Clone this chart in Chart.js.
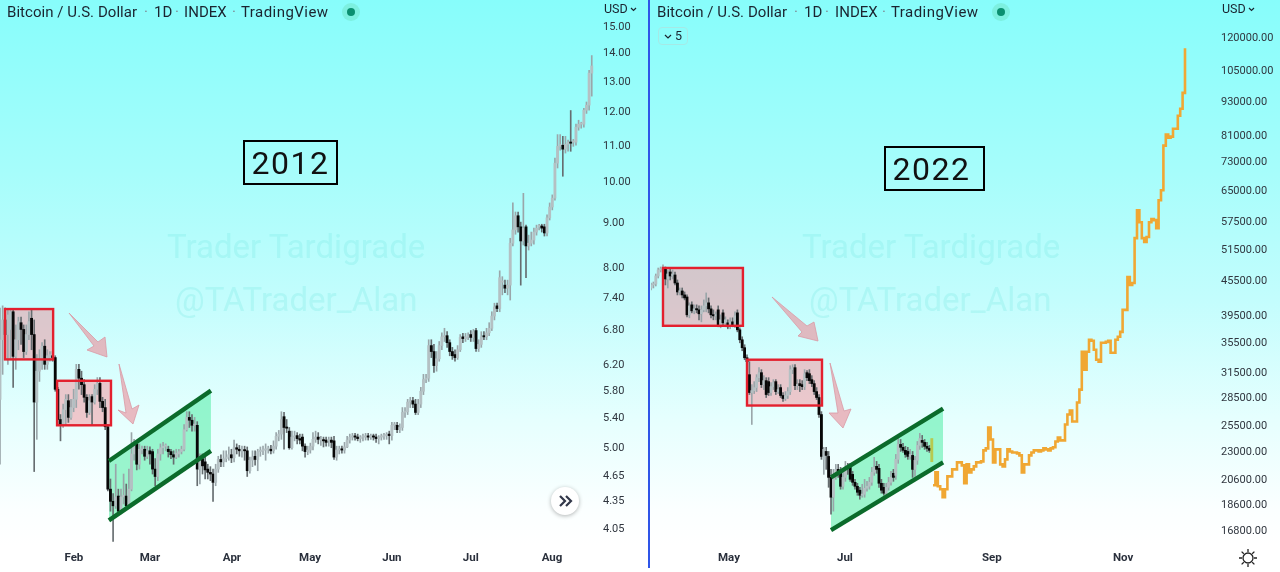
<!DOCTYPE html>
<html>
<head>
<meta charset="utf-8">
<title>Bitcoin 2012 vs 2022</title>
<script src="https://cdn.jsdelivr.net/npm/chart.js@4"></script>
<style>
  html, body { margin: 0; padding: 0; }
  body {
    position: relative; width: 1280px; height: 572px; overflow: hidden;
    background: linear-gradient(180deg, #87fdfb 0, #a6fdfb 170px, #c3fdfd 300px, #e6fffe 420px, #fbffff 510px, #fff 545px);
    font-family: Roboto, "Noto Sans", sans-serif; color: #1b2430;
  }
  canvas { position: absolute; top: 0; }
  #chartLeft { left: 0; }
  #chartRight { left: 651px; }
  #divider { position: absolute; left: 648px; top: 0; width: 2px; height: 568px; background: #2f55e8; }
  .t { position: absolute; top: 3px; font-size: 15px; line-height: 18px; white-space: nowrap; letter-spacing: .05px; }
  .tv { letter-spacing: .45px; }
  .sep { position: absolute; top: 3px; font-size: 15px; line-height: 18px; color: #7d8a94; }
  .usd { position: absolute; top: 2px; font-size: 12.5px; line-height: 14px; }
  .usd svg { margin-left: 2px; vertical-align: 1px; }
  .live { position: absolute; top: 3px; width: 18px; height: 18px; border-radius: 9px; background: #7df0e0; }
  .live i { position: absolute; left: 5px; top: 5px; width: 8px; height: 8px; border-radius: 4px; background: #0a8f70; }
  .year { position: absolute; border: 2.4px solid #000; box-sizing: border-box; color: #111; font-size: 32px; letter-spacing: 1.5px; text-align: center; }
  .mark { position: absolute; color: #70e6e0; opacity: .25; font-size: 33px; white-space: nowrap; }
  #collapse { position: absolute; left: 658px; top: 27px; width: 30px; height: 18px; border: 1px solid #a5e9e6; border-radius: 4px; box-sizing: border-box; font-size: 12.5px; line-height: 16px; text-align: center; }
  #goRight { position: absolute; left: 551px; top: 487px; width: 28px; height: 28px; border-radius: 14px; background: #fff; box-shadow: 0 1px 4px rgba(0,0,0,.3); }
  #arrows { position: absolute; left: 0; top: 0; }
  #gear { position: absolute; left: 1238px; top: 548px; }
</style>
</head>
<body>
<canvas id="chartLeft" width="648" height="572"></canvas>
<canvas id="chartRight" width="629" height="572"></canvas>
<div id="divider"></div>

<svg id="arrows" width="1280" height="572">
  <g fill="#ea8f9b" fill-opacity=".62" stroke="#d99aa5" stroke-opacity=".8">
    <polygon points="69,313 98,342 105,337 107,357 87,350 94,346"></polygon>
    <polygon points="119,364 132,409 139,405 133,424 118,410 126,413"></polygon>
    <polygon points="772,297 807,326 814,322 818,341 798,336 802,332"></polygon>
    <polygon points="830,363 844,411 851,409 843,428 829,413 838,413"></polygon>
  </g>
</svg>

<span class="t" style="left:7px">Bitcoin / U.S. Dollar</span><span class="sep" style="left:144px">·</span>
<span class="t" style="left:154px">1D</span><span class="sep" style="left:175px">·</span>
<span class="t" style="left:184px">INDEX</span><span class="sep" style="left:232px">·</span>
<span class="t tv" style="left:241px">TradingView</span>
<div class="live" style="left:342px"><i></i></div>
<span class="usd" style="left:604px">USD<svg width="7" height="5"><path d="M1 1l2.5 2.5L6 1" fill="none" stroke="#1b2430" stroke-width="1.2"></path></svg></span>

<span class="t" style="left:657px">Bitcoin / U.S. Dollar</span><span class="sep" style="left:794px">·</span>
<span class="t" style="left:804px">1D</span><span class="sep" style="left:825px">·</span>
<span class="t" style="left:835px">INDEX</span><span class="sep" style="left:882px">·</span>
<span class="t tv" style="left:891px">TradingView</span>
<div class="live" style="left:992px"><i></i></div>
<span class="usd" style="left:1222px">USD<svg width="7" height="5"><path d="M1 1l2.5 2.5L6 1" fill="none" stroke="#1b2430" stroke-width="1.2"></path></svg></span>
<div id="collapse"><svg width="8" height="6"><path d="M1 1l3 3 3-3" fill="none" stroke="#1b2430" stroke-width="1.2"></path></svg> 5</div>

<div class="year" style="left:243px;top:140px;width:95px;height:45px;line-height:43px">2012</div>
<div class="year" style="left:884px;top:146px;width:101px;height:45px;line-height:43px;padding-right:6px">2022</div>

<div class="mark" style="left:167px;top:227px">Trader Tardigrade</div>
<div class="mark" style="left:175px;top:280px">@TATrader_Alan</div>
<div class="mark" style="left:802px;top:227px">Trader Tardigrade</div>
<div class="mark" style="left:809px;top:280px">@TATrader_Alan</div>

<div id="goRight"><svg width="28" height="28" fill="none" stroke="#33384a" stroke-width="2.2"><path d="M9 9l5 5-5 5M15 9l5 5-5 5"></path></svg></div>
<svg id="gear" width="20" height="20" fill="none" stroke="#222" stroke-width="1.3">
  <circle cx="10" cy="10" r="5"></circle>
  <path d="M10 1v3M10 16v3M1 10h3M16 10h3M3.6 3.6l2.2 2.2M14.2 14.2l2.2 2.2M3.6 16.4l2.2-2.2M14.2 5.8l2.2-2.2"></path>
</svg>

<script>
// 2012 candles, one per day, in USD
const leftOpen = [
  5.65,6.60,6.95,6.69,6.78,7.10,6.32,6.60,6.90,6.78,
  6.40,6.69,6.98,6.69,5.61,6.08,6.27,6.49,6.19,6.30,
  6.33,6.30,5.80,5.36,5.29,5.50,5.63,5.39,5.53,5.65,
  6.11,5.97,5.87,5.68,5.46,5.69,5.61,5.80,5.89,5.62,
  5.53,5.26,4.47,4.33,4.28,4.39,4.22,4.38,4.39,4.28,
  4.47,4.90,5.03,4.77,4.95,4.96,4.87,4.94,4.93,4.71,
  4.62,4.90,4.98,5.00,4.96,4.93,4.89,4.86,4.90,4.93,
  4.96,5.22,5.39,5.35,5.28,5.28,4.71,4.84,4.80,4.71,
  4.67,4.65,4.55,4.71,4.83,4.80,4.84,4.86,4.89,4.85,
  4.98,4.96,4.94,4.95,4.94,4.69,4.82,4.87,4.83,4.93,
  4.94,4.95,4.96,4.96,4.94,5.00,5.13,5.16,5.40,5.25,
  5.20,4.98,5.12,5.14,5.10,5.12,5.00,4.93,4.95,5.00,
  5.09,5.12,5.08,5.08,5.08,5.07,5.08,5.07,4.86,4.95,
  4.96,4.95,4.99,5.08,5.12,5.13,5.12,5.10,5.12,5.12,
  5.13,5.12,5.13,5.12,5.10,5.12,5.13,5.14,5.16,5.14,
  5.28,5.28,5.22,5.25,5.46,5.47,5.61,5.63,5.58,5.46,
  5.58,5.77,5.95,5.97,6.50,6.40,6.17,6.28,6.50,6.65,
  6.67,6.55,6.40,6.35,6.30,6.43,6.65,6.62,6.65,6.69,
  6.64,6.76,6.45,6.52,6.67,6.65,6.72,6.80,7.02,7.21,
  7.16,7.67,7.61,7.55,7.61,8.49,8.79,9.12,8.86,8.54,
  8.86,8.43,8.49,8.56,8.74,8.86,8.88,8.86,8.72,9.07,
  9.33,9.55,10.46,10.93,10.96,10.85,10.99,11.05,11.05,11.05,
  11.49,11.58,11.58,12.01,12.17,13.23
];
const leftClose = [
  6.60,6.95,6.69,7.04,7.10,6.32,6.60,6.92,6.78,6.40,
  6.69,6.92,6.69,5.61,6.08,6.27,6.49,6.19,6.33,6.35,
  6.30,5.80,5.36,5.29,5.50,5.65,5.39,5.53,5.65,6.11,
  5.97,5.87,5.68,5.46,5.63,5.61,5.80,5.89,5.62,5.53,
  5.26,4.47,4.33,4.28,4.38,4.22,4.38,4.40,4.28,4.47,
  4.90,5.03,4.77,4.96,4.96,4.87,4.94,4.90,4.71,4.62,
  4.90,4.98,5.00,5.00,4.93,4.89,4.86,4.91,4.93,4.96,
  5.22,5.39,5.35,5.28,5.29,4.71,4.84,4.75,4.70,4.67,
  4.65,4.55,4.71,4.83,4.80,4.84,4.86,4.89,4.85,4.98,
  4.96,4.94,4.95,4.94,4.69,4.82,4.86,4.83,4.93,4.94,
  4.95,4.96,4.96,4.94,5.00,5.13,5.16,5.36,5.25,5.24,
  4.98,5.12,5.13,5.10,5.08,5.00,4.93,4.95,5.00,5.09,
  5.12,5.09,5.08,5.07,5.05,5.08,5.05,4.86,4.95,4.96,
  4.95,4.99,5.08,5.12,5.13,5.12,5.10,5.12,5.12,5.13,
  5.12,5.13,5.12,5.10,5.12,5.13,5.14,5.14,5.14,5.28,
  5.28,5.22,5.25,5.46,5.47,5.61,5.63,5.58,5.46,5.58,
  5.77,5.95,5.97,6.50,6.40,6.17,6.28,6.50,6.65,6.67,
  6.55,6.40,6.33,6.30,6.43,6.64,6.62,6.65,6.67,6.64,
  6.74,6.45,6.52,6.65,6.65,6.72,6.80,7.02,7.19,7.16,
  7.76,7.67,7.55,7.61,8.49,8.79,9.12,8.86,8.54,8.83,
  8.43,8.49,8.56,8.74,8.83,8.88,8.83,8.72,9.07,9.33,
  9.55,10.46,10.93,10.99,10.85,10.99,11.05,11.02,11.05,11.49,
  11.58,11.58,12.01,12.17,13.23,13.48
];
const leftHigh = [
  7.17,7.21,7.17,7.14,7.14,7.14,6.86,7.00,7.00,6.86,
  6.86,7.10,7.14,6.95,6.35,6.43,6.55,6.60,6.43,6.40,
  6.40,6.33,5.83,5.43,5.58,5.72,5.72,5.65,5.80,6.19,
  6.19,6.08,5.95,5.72,5.72,5.72,5.87,5.98,5.98,5.68,
  5.65,5.29,4.59,4.42,4.77,4.47,4.47,4.65,4.53,4.71,
  5.18,5.09,5.07,5.03,5.00,5.00,5.00,4.99,4.96,4.84,
  4.96,5.03,5.05,5.03,5.00,4.96,4.94,4.96,4.96,5.00,
  5.29,5.47,5.47,5.43,5.39,5.33,4.90,4.90,4.86,4.77,
  4.74,4.71,4.77,4.87,4.89,4.94,4.94,4.99,4.96,5.08,
  5.03,5.01,5.00,5.00,4.99,4.86,4.94,4.94,4.96,4.99,
  5.00,5.03,5.00,5.01,5.07,5.18,5.21,5.47,5.46,5.36,
  5.25,5.20,5.20,5.18,5.16,5.16,5.03,5.00,5.04,5.18,
  5.20,5.18,5.13,5.12,5.12,5.12,5.12,5.13,5.00,5.00,
  5.00,5.05,5.13,5.16,5.17,5.17,5.16,5.14,5.16,5.17,
  5.17,5.16,5.16,5.16,5.14,5.16,5.17,5.18,5.20,5.32,
  5.32,5.32,5.30,5.53,5.53,5.65,5.68,5.68,5.65,5.65,
  5.83,6.03,6.03,6.60,6.60,6.52,6.40,6.57,6.72,6.80,
  6.74,6.60,6.47,6.43,6.50,6.69,6.71,6.71,6.72,6.76,
  6.78,6.80,6.60,6.74,6.74,6.80,6.90,7.10,7.26,7.26,
  7.90,7.78,7.71,7.71,8.60,9.43,9.21,9.21,8.97,9.67,
  8.90,8.67,8.74,8.83,8.90,8.92,8.92,8.92,9.14,9.43,
  9.63,10.60,11.27,11.27,11.22,11.22,11.11,12.00,11.13,11.58,
  11.70,11.64,12.07,12.27,13.33,13.85
];
const leftLow = [
  4.77,6.03,6.27,6.19,6.27,5.83,6.11,6.43,6.52,6.30,
  6.35,6.60,6.43,4.68,5.09,5.92,6.11,6.11,6.11,6.24,
  6.24,5.77,5.29,5.07,5.25,5.29,5.32,5.36,5.47,5.53,
  5.80,5.72,5.61,5.39,5.43,5.29,5.58,5.72,5.53,5.47,
  5.22,4.45,4.22,3.90,4.25,4.19,4.19,4.30,4.25,4.25,
  4.45,4.82,4.70,4.71,4.90,4.82,4.84,4.77,4.65,4.51,
  4.57,4.82,4.90,4.94,4.86,4.84,4.77,4.84,4.86,4.90,
  4.94,5.20,5.25,5.20,5.20,4.51,4.53,4.65,4.59,4.59,
  4.57,4.33,4.51,4.67,4.74,4.74,4.80,4.82,4.79,4.80,
  4.90,4.87,4.86,4.82,4.62,4.66,4.74,4.76,4.69,4.87,
  4.89,4.82,4.91,4.90,4.91,4.96,5.07,5.09,4.96,5.18,
  4.96,4.96,5.07,5.03,5.03,4.94,4.86,4.89,4.91,4.95,
  5.05,5.03,5.01,4.99,5.00,5.00,4.98,4.83,4.82,4.90,
  4.91,4.91,4.98,5.04,5.08,5.08,5.07,5.05,5.07,5.08,
  5.08,5.09,5.08,5.05,5.03,5.08,5.09,5.09,5.03,5.08,
  5.22,5.18,5.18,5.21,5.39,5.43,5.53,5.53,5.43,5.43,
  5.53,5.72,5.90,5.92,6.30,6.06,6.08,6.24,6.43,6.57,
  6.47,6.33,6.27,6.24,6.27,6.40,6.55,6.57,6.60,6.57,
  6.57,6.40,6.40,6.47,6.60,6.60,6.67,6.76,6.95,7.10,
  7.10,7.42,7.46,7.42,7.32,8.43,8.69,8.74,7.61,8.45,
  7.76,8.34,8.43,8.47,8.67,8.79,8.74,8.65,8.65,9.02,
  9.26,9.50,10.33,10.82,10.11,10.74,10.79,10.79,10.93,10.96,
  11.40,11.46,11.49,11.91,12.01,12.46
];

// 2022 candles
const rightOpen = [
  43930,44460,44640,46080,47200,47390,47390,45540,46820,46080,
  46270,44810,43240,43410,42730,42380,39470,41070,40100,40420,
  40260,39630,40260,40900,41400,40420,39470,39310,40260,37930,
  39780,38230,38230,37780,38380,37930,39780,37180,35730,34620,
  33260,31090,28950,29170,29530,30720,31340,29880,30360,30240,
  28950,29640,30240,29060,29530,28610,28270,28610,29060,31720,
  31970,29760,30000,29880,29640,31340,31210,30480,30000,29060,
  28380,26520,22180,22890,22440,20640,19070,20890,21310,21140,
  19920,20640,21480,21480,20890,20240,19920,19610,19220,19300,
  19760,19920,20240,21060,21570,21400,20160,19840,19380,19840,
  20240,20980,20810,22180,23540,23270,22990,22890,22440,22530,
  21310,22090,23450,23920,23730,23360,23170
];
const rightClose = [
  44460,44640,46080,47200,47390,47580,45540,46450,46080,46450,
  44810,43240,43410,42730,42220,39470,40900,40100,40420,40260,
  39630,40260,40900,41400,40420,39470,39310,39470,37930,38690,
  38230,38690,37630,38380,37930,39310,37180,35730,34620,33260,
  32740,28950,29170,29530,30720,31340,29880,30360,28720,28950,
  29640,30120,29060,29290,28610,28270,28610,29060,31720,31970,
  29760,29880,29760,29640,31210,30720,30360,30000,29060,28380,
  26520,22440,23080,22530,20640,19070,20890,21310,21140,19920,
  20640,21480,21400,20480,20240,19920,19450,19220,19300,19760,
  19920,20240,21060,21480,21310,20160,19610,19380,19840,20240,
  20640,20640,22180,23540,23270,22990,22620,22440,22620,21310,
  22090,23450,24100,23730,23360,23170,22990
];
const rightHigh = [
  44810,44990,46450,47570,47770,48160,47770,47200,47580,47200,
  46820,45360,43930,43930,43240,42730,41400,41570,41070,41070,
  40900,40900,41890,43070,42220,40900,40260,39940,40900,39470,
  40260,39160,38690,39000,39000,39940,40260,37480,36160,35030,
  33660,32740,29880,30240,31090,31970,31720,30970,30720,30720,
  30120,30480,30480,29880,29880,28950,29060,29530,32220,32350,
  32350,30480,30480,30360,31720,31590,31720,30970,30360,29530,
  28720,26830,23270,23270,22890,21310,21310,21740,21740,21480,
  21140,22000,21830,21830,21140,20480,20160,19840,20080,20480,
  20320,20640,21480,22360,22000,21740,20480,20160,20160,20640,
  21140,21310,22620,24300,24010,23640,23360,23270,23080,22890,
  22440,23820,24600,24400,24010,23730,23450
];
const rightLow = [
  43590,43930,44280,45710,46820,46270,44460,43930,45360,45540,
  44460,42730,42730,42220,41890,39160,39000,39780,39630,39780,
  38690,38380,39940,39940,39780,39000,38690,38690,37630,37480,
  37780,37630,37330,37330,37630,37480,36880,35300,34200,33000,
  32480,28720,25490,28830,29060,30240,29530,29290,28380,28610,
  28610,29290,28720,28830,28380,27930,28040,28270,28720,31210,
  29290,29290,29060,29290,29290,30360,30000,29640,28720,28150,
  26210,22180,20890,21310,19840,17820,18040,20480,20640,19690,
  19690,20320,20890,20320,20000,19690,19220,18920,19070,19070,
  19530,19690,20000,20810,20980,19840,19380,19220,19220,19610,
  20000,20320,20480,21830,22890,22800,22360,22180,22180,20640,
  20720,21740,23080,23270,23080,22890,22800
];
// last real candle of 2022, the olive one
const rightLastOpen = [24100];
const rightLastClose = [21970];

// orange projection after the last candle
const projection = [
  20000,21060,19920,19690,19070,19690,20720,20720,21310,21310,
  21910,21910,21650,20160,21740,21060,21310,21570,21910,21910,
  22000,22990,23170,25190,24010,21910,23080,23080,21740,21570,
  22180,23080,22890,22800,22800,22710,22530,21060,21740,21740,
  22530,22800,22990,22990,22890,22990,23170,23080,22990,23170,
  23270,23820,24200,23920,23920,25490,26520,26940,25790,25790,
  27820,29290,34070,31720,34070,35730,35590,34340,33000,32740,
  35300,35300,35440,35590,33930,33930,35730,36160,36880,40260,
  40260,45900,44460,44810,53600,59900,57100,53600,52760,53820,
  57100,57800,57570,55770,62330,64850,77510,80970,80020,80330,
  82900,82900,87300,89760,95630,114320
];

const leftMonths = ["Feb", "Mar", "Apr", "May", "Jun", "Jul", "Aug"];
const leftMonthDays = [28.1, 57, 88.2, 117.9, 149, 179, 209.9];
const rightMonths = ["May", "Jul", "Sep", "Nov"];
const rightMonthDays = [32.5, 80.8, 142, 196.7];

const leftPrices = [15, 14, 13, 12, 11, 10, 9, 8, 7.4, 6.8, 6.2, 5.8, 5.4, 5, 4.65, 4.35, 4.05];
const rightPrices = [120000, 105000, 93000, 81000, 73000, 65000, 57500, 51500, 45500, 39500, 35500, 31500, 28500, 25500, 23000, 20600, 18600, 16800];

// drawn boxes and channels, in day / price
const leftBoxes = [[1.9, 20.2, 7.15, 6.27], [21.7, 42.2, 5.93, 5.28]];
const leftChannelDays = [41.4, 80.2];
const leftChannelTop = [4.81, 5.78];
const leftChannelBottom = [4.12, 4.94];
const rightBoxes = [[5, 38.3, 47580, 37780], [40, 71.25, 33000, 27490]];
const rightChannelDays = [75, 121.7];
const rightChannelTop = [20640, 27160];
const rightChannelBottom = [16720, 21910];

const boxPlugin = {
  id: "boxes",
  beforeDatasetsDraw(chart, args, opts) {
    const { ctx, scales } = chart;
    ctx.save();
    ctx.fillStyle = "rgba(255,97,111,.35)";
    opts.list.forEach((b) => {
      const x = scales.x.getPixelForValue(b[0]);
      const y = scales.y.getPixelForValue(b[2]);
      ctx.fillRect(x, y, scales.x.getPixelForValue(b[1]) - x, scales.y.getPixelForValue(b[3]) - y);
    });
    ctx.restore();
  },
  afterDatasetsDraw(chart, args, opts) {
    const { ctx, scales } = chart;
    ctx.save();
    ctx.strokeStyle = "#e3202e";
    ctx.lineWidth = 2.4;
    opts.list.forEach((b) => {
      const x = scales.x.getPixelForValue(b[0]);
      const y = scales.y.getPixelForValue(b[2]);
      ctx.strokeRect(x, y, scales.x.getPixelForValue(b[1]) - x, scales.y.getPixelForValue(b[3]) - y);
    });
    ctx.restore();
  },
};

function upOrDown(open, close, up, down) {
  return open.map((o, i) => (close[i] < o ? down : up));
}

function channelSets(days, top, bottom) {
  const points = (prices) => days.map((d, i) => ({ x: d, y: prices[i] }));
  const line = (prices) => ({
    type: "line",
    data: points(prices),
    borderColor: "#0b6b2b",
    borderWidth: 4.4,
    pointRadius: 0,
    fill: false,
    order: 0,
  });
  const band = (prices, fill) => ({
    type: "line",
    data: points(prices),
    borderWidth: 0,
    pointRadius: 0,
    backgroundColor: "rgba(65,235,155,.5)",
    fill: fill,
    order: 5,
  });
  return [band(top, "+1"), band(bottom, false), line(top), line(bottom)];
}

function candleSets(open, close, high, low) {
  return [
    {
      data: low.map((l, i) => ({ x: i, y: [l, high[i]] })),
      backgroundColor: upOrDown(open, close, "#9aa6aa", "#666d70"),
      barThickness: 1,
      grouped: false,
      order: 3,
    },
    {
      data: open.map((o, i) => ({ x: i, y: [o, close[i]] })),
      backgroundColor: upOrDown(open, close, "#b4c0c3", "#070707"),
      barThickness: 2.2,
      minBarLength: 1.2,
      grouped: false,
      order: 2,
    },
  ];
}

function makeChart(id, cfg) {
  return new Chart(document.getElementById(id), {
    type: "bar",
    data: { datasets: cfg.datasets },
    plugins: [boxPlugin],
    options: {
      responsive: false,
      animation: false,
      layout: { padding: 0 },
      plugins: {
        legend: { display: false },
        tooltip: { enabled: false },
        boxes: { list: cfg.boxes },
      },
      scales: {
        x: {
          type: "linear",
          offset: false,
          min: 0,
          max: cfg.xMax,
          grid: { display: false, drawTicks: false },
          border: { display: false },
          afterFit: (s) => { s.height = 27; s.paddingLeft = 0; s.paddingRight = 0; },
          afterBuildTicks: (s) => { s.ticks = cfg.monthDays.map((d) => ({ value: d })); },
          ticks: {
            autoSkip: false,
            maxRotation: 0,
            padding: 6,
            color: "#2a303c",
            font: { family: "Roboto", size: 11.5, weight: "bold" },
            callback: (v) => cfg.months[cfg.monthDays.indexOf(v)],
          },
        },
        y: {
          type: "logarithmic",
          position: "right",
          min: cfg.yMin,
          max: cfg.yMax,
          grid: { display: false, drawTicks: false },
          border: { display: false },
          afterFit: (s) => { s.width = cfg.axisWidth; s.paddingTop = 0; s.paddingBottom = 0; },
          afterBuildTicks: (s) => { s.ticks = cfg.prices.map((p) => ({ value: p })); },
          ticks: {
            autoSkip: false,
            padding: 3,
            labelOffset: 2,
            color: "#30363f",
            font: { family: "Roboto", size: 11 },
            callback: (v) => Number(v).toFixed(2),
          },
        },
      },
    },
  });
}

makeChart("chartLeft", {
  xMax: 600 / 2.63,
  yMin: 3.864,
  yMax: 16.01,
  axisWidth: 48,
  months: leftMonths,
  monthDays: leftMonthDays,
  prices: leftPrices,
  boxes: leftBoxes,
  datasets: [
    ...channelSets(leftChannelDays, leftChannelTop, leftChannelBottom),
    ...candleSets(leftOpen, leftClose, leftHigh, leftLow),
  ],
});

makeChart("chartRight", {
  xMax: 567 / 2.4,
  yMin: 15762,
  yMax: 138520,
  axisWidth: 62,
  months: rightMonths,
  monthDays: rightMonthDays,
  prices: rightPrices,
  boxes: rightBoxes,
  datasets: [
    ...channelSets(rightChannelDays, rightChannelTop, rightChannelBottom),
    ...candleSets(rightOpen, rightClose, rightHigh, rightLow),
    {
      data: rightLastOpen.map((o, i) => ({ x: rightOpen.length + i, y: [o, rightLastClose[i]] })),
      backgroundColor: "#b7c94f",
      barThickness: 2.2,
      grouped: false,
      order: 1,
    },
    {
      type: "line",
      data: projection.map((p, i) => ({ x: rightOpen.length + 0.5 + i, y: p })),
      borderColor: "#f0a733",
      borderWidth: 2.6,
      pointRadius: 0,
      stepped: true,
      fill: false,
      order: 1,
    },
  ],
});
</script>
</body>
</html>
